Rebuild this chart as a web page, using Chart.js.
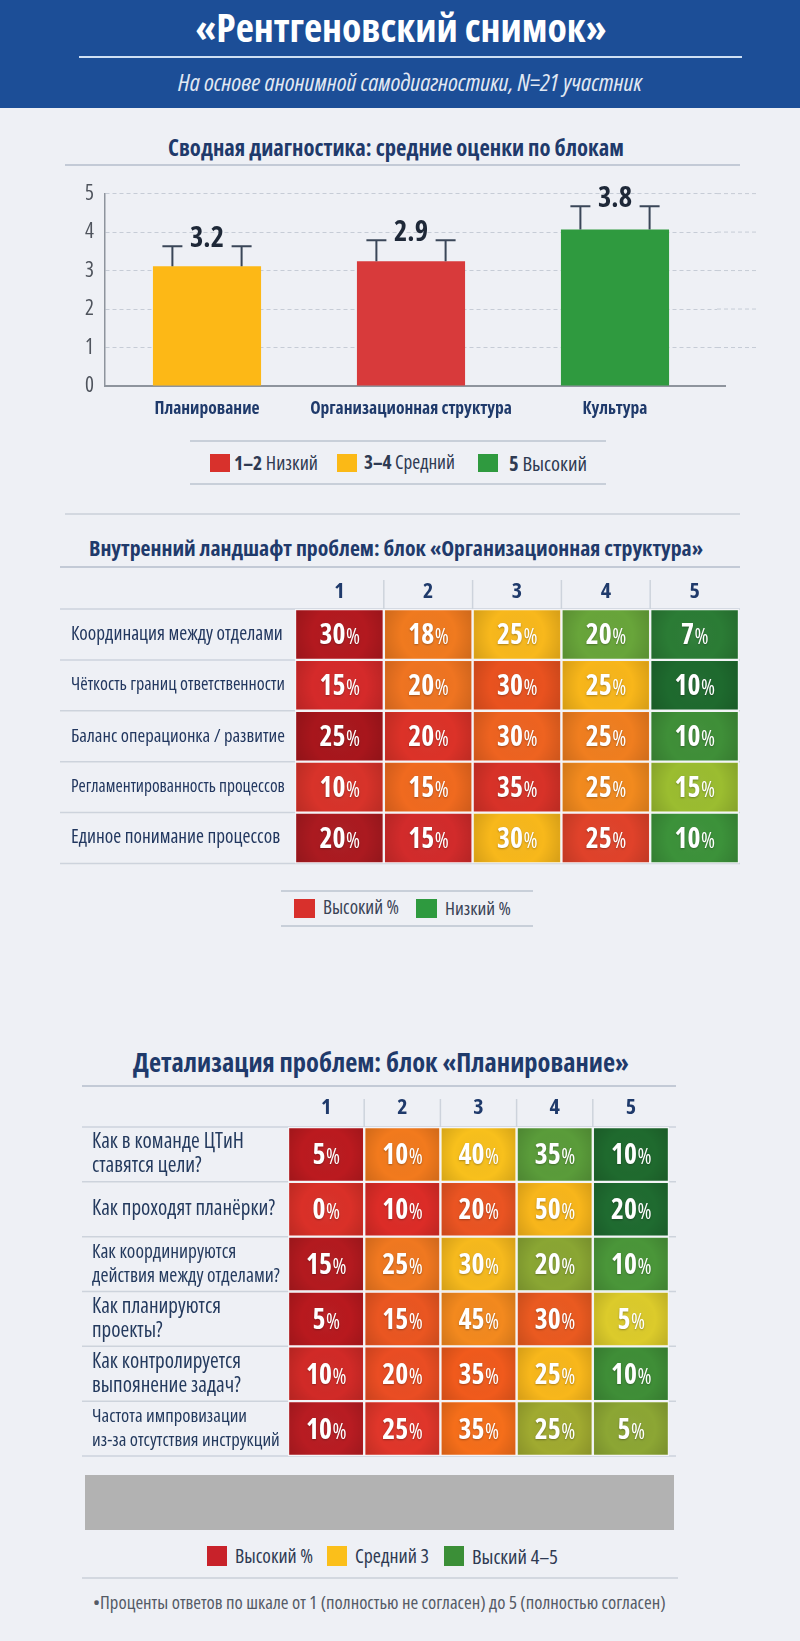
<!DOCTYPE html>
<html lang="ru">
<head>
<meta charset="utf-8">
<script src="https://cdn.jsdelivr.net/npm/chart.js@4.4.1/dist/chart.umd.min.js"></script>
<style>
html,body{margin:0;padding:0;}
body{width:800px;height:1641px;position:relative;overflow:hidden;background:#eef0f5;}
.abs{position:absolute;}
canvas{position:absolute;}
</style>
</head>
<body>
<div class="abs" style="left:0;top:0;width:800px;height:108px;background:#1c4e97"></div>
<div class="abs" style="left:79px;top:56px;width:663px;height:2px;background:#cfe0f4"></div>
<div class="abs" style="left:65px;top:164px;width:675px;height:1.5px;background:#c3cad6"></div>
<div class="abs" style="left:190px;top:440px;width:416px;height:1.5px;background:#c8cfd9"></div>
<div class="abs" style="left:190px;top:483px;width:416px;height:1.5px;background:#c8cfd9"></div>
<div class="abs" style="left:65px;top:513px;width:675px;height:1.5px;background:#d3d8e0"></div>
<div class="abs" style="left:60px;top:566px;width:680px;height:1.5px;background:#c3cad6"></div>
<div class="abs" style="left:281px;top:890px;width:252px;height:1.5px;background:#c8cfd9"></div>
<div class="abs" style="left:281px;top:925px;width:252px;height:1.5px;background:#c8cfd9"></div>
<div class="abs" style="left:82px;top:1085px;width:594px;height:1.5px;background:#c3cad6"></div>
<div class="abs" style="left:82px;top:1577px;width:596px;height:1.5px;background:#d3d8e0"></div>

<canvas id="c1" width="800" height="260" style="left:0;top:170px;width:800px;height:260px"></canvas>
<canvas id="c2" width="690" height="300" style="left:60px;top:575px;width:690px;height:300px"></canvas>
<canvas id="c3" width="594" height="385" style="left:82px;top:1095px;width:594px;height:385px"></canvas>
<div class="abs" style="left:85px;top:1475px;width:589px;height:55px;background:#b2b2b2"></div>

<script>
// ---------- DATA ----------
const TITLE = '«Рентгеновский снимок»';
const SUBTITLE = 'На основе анонимной самодиагностики, N=21 участник';
const SEC1_TITLE = 'Сводная диагностика: средние оценки по блокам';
const SEC2_TITLE = 'Внутренний ландшафт проблем: блок «Организационная структура»';
const SEC3_TITLE = 'Детализация проблем: блок «Планирование»';
const FOOTNOTE = '•Проценты ответов по шкале от 1 (полностью не согласен) до 5 (полностью согласен)';

const CATEGORIES = ['Планирование', 'Организационная структура', 'Культура'];
const BAR_MEANS = [3.11, 3.24, 4.07];
const BAR_LABELS = ['3.2', '2.9', '3.8'];
const ERROR_TOPS = [3.63, 3.79, 4.67];

const SCALE_COLS = ['1', '2', '3', '4', '5'];

const ORG_ROWS = ['Координация между отделами', 'Чёткость границ ответственности', 'Баланс операционка / развитие', 'Регламентированность процессов', 'Единое понимание процессов'];
const ORG_PCT = [
  [30, 18, 25, 20, 7],
  [15, 20, 30, 25, 10],
  [25, 20, 30, 25, 10],
  [10, 15, 35, 25, 15],
  [20, 15, 30, 25, 10]
];

const PLAN_ROWS = [
  ['Как в команде ЦТиН', 'ставятся цели?'],
  ['Как проходят планёрки?'],
  ['Как координируются', 'действия между отделами?'],
  ['Как планируются', 'проекты?'],
  ['Как контролируется', 'выпоянение задач?'],
  ['Частота импровизации', 'из-за отсутствия инструкций']
];
const PLAN_PCT = [
  [5, 10, 40, 35, 10],
  [0, 10, 20, 50, 20],
  [15, 25, 30, 20, 10],
  [5, 15, 45, 30, 5],
  [10, 20, 35, 25, 10],
  [10, 25, 35, 25, 5]
];

const LEGEND1 = [['1–2', 'Низкий'], ['3–4', 'Средний'], ['5', 'Высокий']];
const LEGEND2 = ['Высокий %', 'Низкий %'];
const LEGEND3 = ['Высокий %', 'Средний 3', 'Выский 4–5'];

// ---------- STYLES ----------
const OS = "'Open Sans','Noto Sans',sans-serif";
const CB = 'condensed 700';        // condensed bold (stretch keyword + weight)
const CR = 'condensed 400';        // condensed regular
const SR = 'semi-condensed 400';   // semi-condensed regular
const NAVY = '#1f3a6b';
const BAR_COLORS = ['#fdb816', '#d83a3b', '#2f9a3f'];
const ORG_COLORS = [
  ['#b3191f', '#f07a1f', '#f8b81c', '#68a53a', '#2b7c35'],
  ['#d52a2a', '#ef7421', '#e9521f', '#f8b61a', '#1e6a2e'],
  ['#a8161c', '#dc3228', '#ee6320', '#f07e1f', '#3f8f38'],
  ['#d8332a', '#f06a1f', '#d83228', '#f28a1e', '#9bbd30'],
  ['#ab1a20', '#d22b2b', '#f8b81b', '#e0422a', '#3c923a']
];
const PLAN_COLORS = [
  ['#bb1a1f', '#f27a1d', '#f8c01c', '#5a9c3a', '#1f6a2e'],
  ['#da3028', '#dc2c27', '#ea5422', '#f8b61b', '#1f6b30'],
  ['#b31a1f', '#f07820', '#f6b91d', '#8aa633', '#4a9639'],
  ['#b8191e', '#ea5621', '#f3891e', '#ea5a20', '#dccb2b'],
  ['#d12a27', '#ea4d23', '#f05a1c', '#f8b71b', '#3f8e37'],
  ['#b81c22', '#e0362a', '#f56e1a', '#a0aa30', '#8ca634']
];

// ---------- HELPERS ----------
const mctx = document.createElement('canvas').getContext('2d');
function fitSize(text, weight, target) {
  mctx.font = `${weight} 100px ${OS}`;
  return 100 * target / mctx.measureText(text).width;
}
function labelSizes(rows, weight, base, maxW) {
  return rows.map(r => {
    const lines = Array.isArray(r) ? r : [r];
    return Math.min(base, ...lines.map(l => fitSize(l, weight, maxW)));
  });
}
function put(html, o) {
  const el = document.createElement('div');
  el.className = 'abs';
  el.innerHTML = html;
  el.style.whiteSpace = 'nowrap';
  el.style.fontFamily = OS;
  el.style.fontWeight = o.weight || 400;
  el.style.fontStretch = o.stretch || '75%';
  el.style.fontStyle = o.italic ? 'italic' : 'normal';
  el.style.color = o.color;
  el.style.fontSize = '20px';
  el.style.lineHeight = '1';
  document.body.appendChild(el);
  const w = el.getBoundingClientRect().width;
  el.style.fontSize = (20 * o.w / w).toFixed(2) + 'px';
  const r = el.getBoundingClientRect();
  el.style.left = (o.cx !== undefined ? o.cx - r.width / 2 : o.x) + 'px';
  el.style.top = (o.cy - r.height / 2) + 'px';
  return el;
}
function swatch(x, cy, w, h, color) {
  const d = document.createElement('div');
  d.className = 'abs';
  d.style.cssText += `left:${x}px;top:${cy - h / 2}px;width:${w}px;height:${h}px;background:${color}`;
  document.body.appendChild(d);
}

// ---------- HTML TEXT ----------
put(TITLE, { cx: 401, cy: 28, w: 411, weight: 700, color: '#ffffff' });
put(SUBTITLE, { cx: 410, cy: 82, w: 464, italic: true, color: '#e1e8f3' });
put(SEC1_TITLE, { cx: 396, cy: 148, w: 456, weight: 700, color: NAVY });
put(SEC2_TITLE, { cx: 396, cy: 548, w: 614, weight: 700, color: NAVY });
put(SEC3_TITLE, { cx: 381, cy: 1062, w: 496, weight: 700, color: NAVY });

// legend 1
const L1C = ['#d8312c', '#fbb916', '#2f9a3f'];
const L1X = [[210, 234, 84], [337, 364, 91], [478, 509, 78]];
LEGEND1.forEach((it, i) => {
  swatch(L1X[i][0], 463, 20, 18, L1C[i]);
  put(`<b>${it[0]}</b> ${it[1]}`, { x: L1X[i][1], cy: 463, w: L1X[i][2], color: '#2e3a52' });
});
// legend 2
const L2C = ['#d8302c', '#2e9a3f'];
const L2X = [[294, 323, 76], [416, 445, 66]];
LEGEND2.forEach((t, i) => {
  swatch(L2X[i][0], 908, 21, 19, L2C[i]);
  put(t, { x: L2X[i][1], cy: 908, w: L2X[i][2], color: '#3a4356' });
});
// legend 3
const L3C = ['#c8222a', '#fbbf1a', '#3b8f37'];
const L3X = [[207, 235, 78], [327, 355, 74], [444, 472, 86]];
LEGEND3.forEach((t, i) => {
  swatch(L3X[i][0], 1556, 20, 20, L3C[i]);
  put(t, { x: L3X[i][1], cy: 1556, w: L3X[i][2], stretch: '87.5%', color: '#2e3a52' });
});
put(FOOTNOTE, { x: 93, cy: 1602, w: 573, stretch: '87.5%', color: '#555b66' });

// ---------- CHART 1 : bars with error whiskers ----------
const catSize = fitSize('Организационная структура', CB, 202);
const valSize = fitSize('3.2', CB, 34);
const errorPlugin = {
  id: 'errorBars',
  beforeDatasetsDraw(chart) {
    // extend the dashed value grid and the base axis to the right, as in the original
    const { ctx, chartArea: a } = chart;
    const ys = chart.scales.y;
    ctx.save();
    ctx.strokeStyle = '#c6ccd6';
    ctx.lineWidth = 1;
    ctx.setLineDash([4, 3]);
    ys.ticks.forEach(t => {
      if (t.value === 0) return;
      const py = ys.getPixelForValue(t.value);
      ctx.beginPath(); ctx.moveTo(a.right, py); ctx.lineTo(a.right + 41, py); ctx.stroke();
    });
    ctx.setLineDash([]);
    ctx.strokeStyle = '#8e949d';
    ctx.lineWidth = 2;
    const p0 = ys.getPixelForValue(0);
    ctx.beginPath(); ctx.moveTo(a.right, p0); ctx.lineTo(a.right + 9, p0); ctx.stroke();
    ctx.restore();
  },
  afterDatasetsDraw(chart) {
    const ctx = chart.ctx, ys = chart.scales.y;
    chart.getDatasetMeta(0).data.forEach((bar, i) => {
      const top = ys.getPixelForValue(ERROR_TOPS[i]);
      const off = bar.width * 0.32;
      ctx.save();
      ctx.strokeStyle = '#3a4658';
      ctx.lineWidth = 2;
      [-off, off].forEach(dx => {
        const x = bar.x + dx;
        ctx.beginPath();
        ctx.moveTo(x, bar.y); ctx.lineTo(x, top);
        ctx.moveTo(x - 10, top); ctx.lineTo(x + 10, top);
        ctx.stroke();
      });
      ctx.font = `${CB} ${valSize}px ${OS}`;
      ctx.fillStyle = '#1e2838';
      ctx.textAlign = 'center';
      ctx.textBaseline = 'middle';
      ctx.fillText(BAR_LABELS[i], bar.x, top - 7);
      ctx.restore();
    });
  }
};
new Chart(document.getElementById('c1'), {
  type: 'bar',
  data: {
    labels: CATEGORIES,
    datasets: [{ data: BAR_MEANS, backgroundColor: BAR_COLORS, barPercentage: 0.53, categoryPercentage: 1 }]
  },
  options: {
    responsive: false, animation: false,
    layout: { padding: { left: 0, right: 83, top: 21, bottom: 0 } },
    plugins: { legend: { display: false }, tooltip: { enabled: false } },
    scales: {
      x: {
        grid: { display: false },
        border: { display: true, color: '#8e949d', width: 2 },
        ticks: { color: NAVY, font: { family: OS, weight: CB, size: catSize }, padding: 4, maxRotation: 0, autoSkip: false },
        afterFit: s => { s.height = 44; }
      },
      y: {
        min: 0, max: 5,
        ticks: { stepSize: 1, color: '#4f545d', font: { family: OS, weight: CR, size: 21 }, padding: 11 },
        grid: { color: '#c6ccd6', lineWidth: 1, drawTicks: false },
        border: { display: true, color: '#8e949d', width: 1.5, dash: [4, 3] },
        afterFit: s => { s.width = 105; }
      }
    }
  },
  plugins: [errorPlugin]
});

// ---------- HEATMAPS ----------
function heatPlugin(pct, o) {
  return {
    id: 'heat',
    beforeDatasetsDraw(chart) {
      const { ctx, chartArea: a } = chart;
      const xs = chart.scales.x, ys = chart.scales.y;
      const n = pct.length;
      const edges = [a.top];
      for (let i = 1; i < n; i++) edges.push((ys.getPixelForValue(i - 1) + ys.getPixelForValue(i)) / 2);
      edges.push(a.bottom);
      ctx.save();
      ctx.strokeStyle = o.lineColor;
      ctx.lineWidth = 1.5;
      edges.forEach(e => { ctx.beginPath(); ctx.moveTo(0, e); ctx.lineTo(o.lineRight, e); ctx.stroke(); });
      for (let j = 1; j < SCALE_COLS.length; j++) {
        const px = xs.getPixelForValue(j);
        ctx.beginPath(); ctx.moveTo(px, a.top - o.hdrH); ctx.lineTo(px, a.top); ctx.stroke();
      }
      ctx.restore();
    },
    afterDatasetsDraw(chart) {
      const ctx = chart.ctx;
      chart.data.datasets.forEach((ds, j) => {
        chart.getDatasetMeta(j).data.forEach((el, i) => {
          const x0 = Math.min(el.x, el.base) + 1.5, x1 = Math.max(el.x, el.base) - 1.5;
          const y0 = el.y - el.height / 2 + 1.5, y1 = el.y + el.height / 2 - 1.5;
          const cx = (x0 + x1) / 2, cy = (y0 + y1) / 2;
          ctx.save();
          const g = ctx.createRadialGradient(cx, cy, 0, cx, cy, Math.hypot(x1 - x0, y1 - y0) / 2);
          g.addColorStop(0, 'rgba(255,255,255,0.05)');
          g.addColorStop(0.55, 'rgba(0,0,0,0)');
          g.addColorStop(1, 'rgba(0,0,0,0.14)');
          ctx.fillStyle = g;
          ctx.fillRect(x0, y0, x1 - x0, y1 - y0);
          const num = String(pct[i][j]);
          ctx.font = `${CB} ${o.numSize}px ${OS}`;
          const wn = ctx.measureText(num).width;
          ctx.font = `${CR} ${o.pctSize}px ${OS}`;
          const wp = ctx.measureText('%').width;
          const sx = cx - (wn + wp) / 2;
          const by = cy + o.numSize * 0.36;
          ctx.shadowColor = 'rgba(0,0,0,0.3)';
          ctx.shadowBlur = 2;
          ctx.shadowOffsetY = 1;
          ctx.fillStyle = '#ffffff';
          ctx.textBaseline = 'alphabetic';
          ctx.textAlign = 'left';
          ctx.font = `${CB} ${o.numSize}px ${OS}`;
          ctx.fillText(num, sx, by);
          ctx.font = `${CR} ${o.pctSize}px ${OS}`;
          ctx.fillText('%', sx + wn + 0.5, by);
          ctx.restore();
        });
      });
    }
  };
}
function heatmap(id, rows, pct, colors, o) {
  return new Chart(document.getElementById(id), {
    type: 'bar',
    data: {
      labels: rows,
      datasets: SCALE_COLS.map((c, j) => ({
        label: c,
        data: rows.map(() => [j, j + 1]),
        backgroundColor: colors.map(r => r[j]),
        borderColor: o.gap, borderWidth: 1.5, borderSkipped: false,
        barPercentage: 1, categoryPercentage: 1, grouped: false
      }))
    },
    options: {
      indexAxis: 'y', responsive: false, animation: false,
      layout: { padding: o.pad },
      plugins: { legend: { display: false }, tooltip: { enabled: false } },
      scales: {
        x: {
          type: 'linear', position: 'top', min: 0, max: 5,
          grid: { display: false }, border: { display: false },
          afterBuildTicks: s => { s.ticks = SCALE_COLS.map((c, k) => ({ value: k + 0.5 })); },
          ticks: { callback: (v, k) => SCALE_COLS[k], color: NAVY, font: { family: OS, weight: CB, size: o.hdrSize }, padding: o.hdrPad, autoSkip: false, maxRotation: 0 },
          afterFit: s => { s.height = o.axisH; }
        },
        y: {
          grid: { display: false }, border: { display: false },
          ticks: {
            crossAlign: 'far', color: o.labelColor, padding: 0, autoSkip: false,
            font: c => ({ family: OS, weight: o.labelWeight, size: o.labelSizes[c.index] || o.labelSizes[0], lineHeight: o.labelLH })
          },
          afterFit: s => { s.width = o.axisW; }
        }
      }
    },
    plugins: [heatPlugin(pct, o)]
  });
}

const cellNum = fitSize('30', CB, 26);
const cellPct = fitSize('%', CR, 14);

heatmap('c2', ORG_ROWS, ORG_PCT, ORG_COLORS, {
  pad: { left: 11, right: 11, top: 0, bottom: 3 },
  axisW: 224, axisH: 34, hdrH: 29, hdrSize: 22, hdrPad: -4,
  labelWeight: CR,
  labelSizes: labelSizes(ORG_ROWS, CR, fitSize('Координация между отделами', CR, 212), 214),
  labelLH: 1.2, labelColor: '#22375f',
  lineColor: '#cdd3dc', lineRight: 680, gap: '#f3f4f7',
  numSize: cellNum, pctSize: cellPct
});

heatmap('c3', PLAN_ROWS, PLAN_PCT, PLAN_COLORS, {
  pad: { left: 10, right: 7, top: 0, bottom: 5 },
  axisW: 196, axisH: 32, hdrH: 28, hdrSize: 22, hdrPad: -2,
  labelWeight: SR,
  labelSizes: labelSizes(PLAN_ROWS, SR, fitSize('Как проходят планёрки?', SR, 183), 188),
  labelLH: '24px', labelColor: '#243a5e',
  lineColor: '#cdd3dc', lineRight: 594, gap: '#f3f4f7',
  numSize: cellNum, pctSize: cellPct
});
</script>
</body>
</html>
